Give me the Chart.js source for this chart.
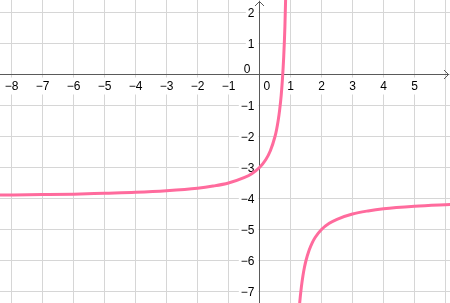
<!DOCTYPE html>
<html>
<head>
<meta charset="utf-8">
<script src="https://cdn.jsdelivr.net/npm/chart.js@4/dist/chart.umd.min.js"></script>
<style>
  html, body { margin: 0; padding: 0; background: #fff; }
  canvas { display: block; }
</style>
</head>
<body>
<canvas id="graph" width="450" height="303"></canvas>
<script>
// DATA
// left branch of the curve
const leftX = [-8.4, -7, -6, -5, -4, -3, -2, -1.5, -1, -0.5, -0.25, 0, 0.2, 0.35, 0.5, 0.55, 0.6, 0.65, 0.7, 0.74, 0.78, 0.82, 0.86];
const leftY = [-3.89, -3.875, -3.86, -3.83, -3.8, -3.75, -3.67, -3.6, -3.5, -3.33, -3.2, -3.0, -2.75, -2.46, -2.0, -1.78, -1.5, -1.14, -0.67, -0.15, 0.55, 1.56, 3.14];
// right branch of the curve
const rightX = [1.25, 1.3, 1.35, 1.4, 1.45, 1.5, 1.6, 1.7, 1.8, 2, 2.25, 2.5, 3, 3.5, 4, 5, 6.2];
const rightY = [-8.0, -7.33, -6.86, -6.5, -6.22, -6.0, -5.67, -5.43, -5.25, -5.0, -4.8, -4.67, -4.5, -4.4, -4.33, -4.25, -4.19];

// axis ticks
const xTickValues = [-8, -7, -6, -5, -4, -3, -2, -1, 0, 1, 2, 3, 4, 5];
const xTickLabels = ["−8", "−7", "−6", "−5", "−4", "−3", "−2", "−1", "0", "1", "2", "3", "4", "5"];
const yTickValues = [-7, -6, -5, -4, -3, -2, -1, 0, 1, 2];
const yTickLabels = ["−7", "−6", "−5", "−4", "−3", "−2", "−1", "0", "1", "2"];

// visible window
const xMin = -8.371, xMax = 6.145;
const yMin = -7.371, yMax = 2.403;

const curveColor = "#ff6b9d";
const axisColor = "#5a5a5a";
const labelFont = "12px 'Liberation Sans', Arial, sans-serif";

//* align a pixel to the middle of a device pixel
function crisp(p) {
  return Math.round(p - 0.5) + 0.5;
}

//* axes, arrows and tick labels (drawn under the curve)
const axesPlugin = {
  id: "axesPlugin",
  beforeDatasetsDraw(chart) {
    const ctx = chart.ctx;
    const xs = chart.scales.x;
    const ys = chart.scales.y;
    const ox = crisp(xs.getPixelForValue(0));
    const oy = crisp(ys.getPixelForValue(0));
    const left = chart.chartArea.left;
    const right = chart.chartArea.right;
    const top = chart.chartArea.top;
    const bottom = chart.chartArea.bottom;

    ctx.save();
    ctx.font = labelFont;
    ctx.textBaseline = "alphabetic";

    // x labels
    xTickValues.forEach((v, i) => {
      const text = xTickLabels[i];
      const w = ctx.measureText(text).width;
      if (v === 0) {
        ctx.fillStyle = "#fff";
        ctx.fillRect(ox + 2, oy + 3, w + 4, 17);
        ctx.fillStyle = "#000";
        ctx.textAlign = "left";
        ctx.fillText(text, ox + 4, oy + 15);
        return;
      }
      const px = xs.getPixelForValue(v);
      ctx.fillStyle = "#fff";
      ctx.fillRect(px - w / 2 - 2, oy + 3, w + 4, 17);
      ctx.fillStyle = "#000";
      ctx.textAlign = "center";
      ctx.fillText(text, px, oy + 15);
    });

    // y labels
    yTickValues.forEach((v, i) => {
      const text = yTickLabels[i];
      const w = ctx.measureText(text).width;
      ctx.textAlign = "right";
      if (v === 0) {
        ctx.fillStyle = "#000";
        ctx.fillText(text, ox - 9, oy - 2);
        return;
      }
      const py = ys.getPixelForValue(v);
      ctx.fillStyle = "#fff";
      ctx.fillRect(ox - 5 - w - 2, py - 7, w + 6, 14);
      ctx.fillStyle = "#000";
      ctx.fillText(text, ox - 5, py + 5);
    });

    // axis lines
    ctx.strokeStyle = axisColor;
    ctx.lineWidth = 1;
    ctx.beginPath();
    ctx.moveTo(left, oy);
    ctx.lineTo(right - 1, oy);
    ctx.moveTo(ox, top + 1);
    ctx.lineTo(ox, bottom);
    ctx.stroke();

    // arrow heads
    ctx.beginPath();
    ctx.moveTo(right - 6, oy - 4.5);
    ctx.lineTo(right - 1.5, oy);
    ctx.lineTo(right - 6, oy + 4.5);
    ctx.moveTo(ox - 4.5, top + 6);
    ctx.lineTo(ox, top + 1.5);
    ctx.lineTo(ox + 4.5, top + 6);
    ctx.stroke();
    ctx.restore();
  },
};

//* build point lists for the library
function toPoints(xArr, yArr) {
  return xArr.map((x, i) => ({ x: x, y: yArr[i] }));
}

const curveStyle = {
  showLine: true,
  borderColor: curveColor,
  borderWidth: 3,
  pointRadius: 0,
  pointHoverRadius: 0,
  fill: false,
  cubicInterpolationMode: "monotone",
};

const ctx = document.getElementById("graph");

const myChart = new Chart(ctx, {
  type: "scatter",
  data: {
    datasets: [
      Object.assign({ label: "left", data: toPoints(leftX, leftY) }, curveStyle),
      Object.assign({ label: "right", data: toPoints(rightX, rightY) }, curveStyle),
    ],
  },
  options: {
    responsive: false,
    maintainAspectRatio: false,
    animation: false,
    events: [],
    layout: { padding: 0 },
    plugins: {
      legend: { display: false },
      tooltip: { enabled: false },
    },
    scales: {
      x: {
        type: "linear",
        min: xMin,
        max: xMax,
        ticks: { display: false, stepSize: 1, includeBounds: false },
        grid: { color: "#d6d6d6", lineWidth: 1, drawTicks: false, tickLength: 0 },
        border: { display: false },
      },
      y: {
        type: "linear",
        min: yMin,
        max: yMax,
        ticks: { display: false, stepSize: 1, includeBounds: false },
        grid: { color: "#d6d6d6", lineWidth: 1, drawTicks: false, tickLength: 0 },
        border: { display: false },
      },
    },
  },
  plugins: [axesPlugin],
});
</script>
</body>
</html>
